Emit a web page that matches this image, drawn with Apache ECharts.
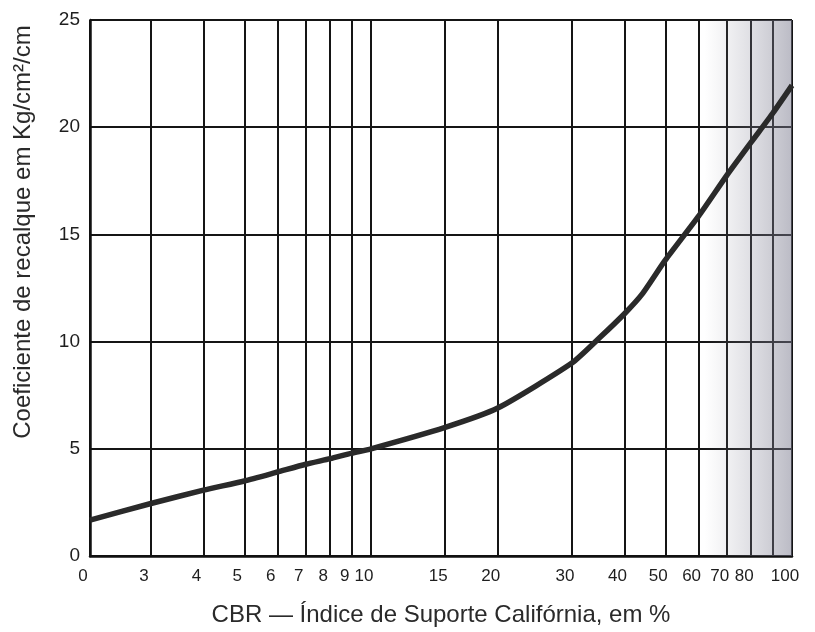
<!DOCTYPE html>
<html><head><meta charset="utf-8">
<script src="https://cdn.jsdelivr.net/npm/echarts@6/dist/echarts.min.js"></script>
<style>html,body{margin:0;padding:0;background:#fff}#c{width:815px;height:632px}</style>
</head><body><div id="c"></div>
<script>
// CBR (%) on a log axis, coefficient (kg/cm2/cm) on a linear axis
const cbr  = [2.15, 3, 4, 5, 6, 7, 8, 9, 10, 15, 20, 30, 35, 40, 44, 50, 60, 70, 80, 90, 100];
const coef = [1.67, 2.45, 3.07, 3.5, 3.92, 4.28, 4.54, 4.8, 5.0, 6.0, 6.9, 9.0, 10.2, 11.3, 12.2, 13.8, 15.85, 17.75, 19.3, 20.65, 21.95];
const xTicks = [2.15, 3, 4, 5, 6, 7, 8, 9, 10, 15, 20, 30, 40, 50, 60, 70, 80, 90, 100];
const xTickLabels = ['0', '3', '4', '5', '6', '7', '8', '9', '10', '15', '20', '30', '40', '50', '60', '70', '80', '90', '100'];
const yTicks = [0, 5, 10, 15, 20, 25];
const xName = 'CBR — Índice de Suporte Califórnia, em %';
const yName = 'Coeficiente de recalque em Kg/cm²/cm';

const chart = echarts.init(document.getElementById('c'), null, {renderer: 'canvas'});
const sans = '"Liberation Sans", Arial, sans-serif';
function nearestLabel(v) {
  let best = 0, bd = Infinity;
  xTicks.forEach((t, i) => { const d = Math.abs(Math.log(t) - Math.log(v)); if (d < bd) { bd = d; best = i; } });
  return xTickLabels[best];
}
chart.setOption({
  animation: false,
  backgroundColor: '#fff',
  grid: {left: 90, right: 23, top: 20, bottom: 73},
  xAxis: {
    type: 'log', logBase: 10, min: xTicks[0], max: xTicks[xTicks.length - 1],
    axisLine: {show: true, lineStyle: {color: '#111', width: 2.5}},
    axisTick: {show: false, customValues: xTicks},
    axisLabel: {customValues: xTicks, formatter: v => nearestLabel(v), showMinLabel: true, showMaxLabel: true, hideOverlap: false,
      fontSize: 17, color: '#1e1e1e', fontFamily: sans, margin: 12, padding: [0, 14, 0, 0]},
    splitLine: {show: true, lineStyle: {color: '#151515', width: 2}},
    name: xName, nameLocation: 'middle', nameGap: 47,
    nameTextStyle: {fontSize: 24, color: '#2a2a2a', fontFamily: sans}
  },
  yAxis: {
    type: 'value', min: yTicks[0], max: yTicks[yTicks.length - 1], interval: 5,
    axisLine: {show: true, lineStyle: {color: '#111', width: 2.5}},
    axisTick: {show: false},
    axisLabel: {fontSize: 19, color: '#1e1e1e', fontFamily: sans, margin: 10},
    splitLine: {show: true, lineStyle: {color: '#151515', width: 2}}
  },
  graphic: [{
    type: 'text', x: 23, y: 232, rotation: Math.PI / 2,
    style: {text: yName, fontSize: 24, fontFamily: sans, fill: '#2a2a2a', align: 'center', verticalAlign: 'middle'}
  }],
  series: [{
    type: 'line', data: cbr.map((x, i) => [x, coef[i]]),
    symbol: 'none', smooth: 0.2,
    lineStyle: {color: '#2a2a2a', width: 5.5},
    markArea: {
      silent: true,
      itemStyle: {color: {type: 'linear', x: 0, y: 0, x2: 1, y2: 0, colorStops: [
        {offset: 0, color: 'rgba(150,150,165,0)'}, {offset: 1, color: 'rgba(120,120,140,0.5)'}]}},
      data: [[{xAxis: 62}, {xAxis: 100}]]
    }
  }]
});
</script></body></html>
